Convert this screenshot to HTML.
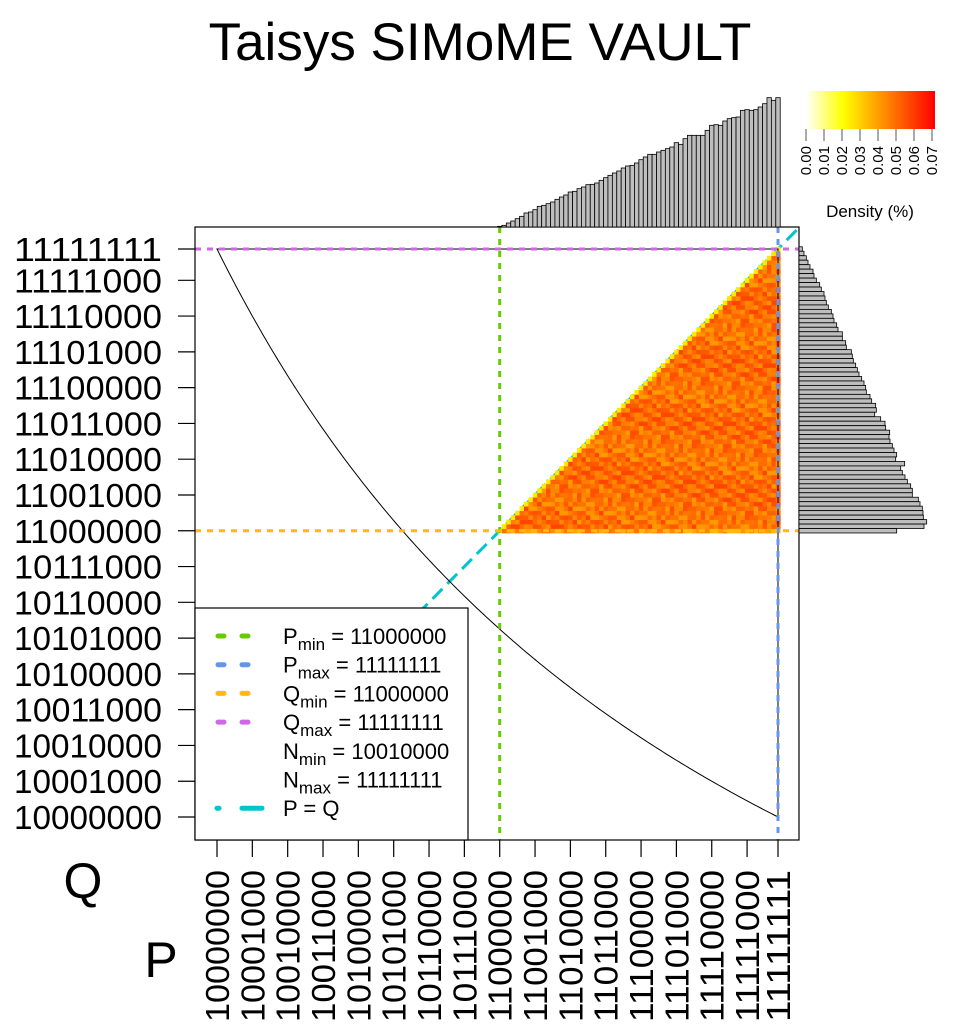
<!DOCTYPE html>
<html><head><meta charset="utf-8"><style>
html,body{margin:0;padding:0;background:#fff;}
svg{display:block;font-family:"Liberation Sans",Arial,sans-serif;}
</style></head><body>
<svg id="chart" width="960" height="1036" viewBox="0 0 960 1036">
<defs><clipPath id="boxclip"><rect x="195" y="227" width="604" height="613"/></clipPath></defs>
<text x="480" y="60" font-size="53" text-anchor="middle">Taisys SIMoME VAULT</text>
<g id="lines"></g>
<g id="heat"></g>
<g id="lines2"></g>
<g id="axes"></g>
<g id="hists"></g>
<g id="legend"></g>
<g id="cbar"></g>
</svg>
<script>
// ---- data ----
const yTickValues = [128,136,144,152,160,168,176,184,192,200,208,216,224,232,240,248,255];
const xTickValues = [128,136,144,152,160,168,176,184,192,200,208,216,224,232,240,248,255];
const pMin = 192, pMax = 255, qMin = 192, qMax = 255, nConst = 32640;
// top histogram (P marginal) heights in density units (x1/3 px)
const pHist = [2,5,12,18,25,32,42,45,52,62,65,70,75,83,90,96,105,107,115,120,127,128,132,140,148,155,162,168,177,183,185,192,202,210,218,218,225,230,235,240,253,248,265,275,275,275,275,290,305,307,305,318,325,328,330,350,352,350,352,360,370,388,380,388];
// right histogram (Q marginal), listed from Q=255 down to Q=192
const qHistTopDown = [10,15,22,27,33,42,45,52,62,67,75,78,82,88,97,102,105,113,117,130,130,140,142,157,160,163,170,175,180,188,195,200,202,213,218,230,232,227,245,258,260,272,270,273,280,285,293,290,317,305,310,318,325,335,340,340,358,363,370,372,373,383,375,293];
// heat cell variation digits
const cellDigits = "5738196402857316940285731694027583619405827316495038271649305827164950382716495038172649501837264950";
const cbTicks = ["0.00","0.01","0.02","0.03","0.04","0.05","0.06","0.07"];

const NS="http://www.w3.org/2000/svg";
function mk(tag,attrs,parent){const e=document.createElementNS(NS,tag);for(const k in attrs)e.setAttribute(k,attrs[k]);parent.appendChild(e);return e;}
const xS = v => 217 + (v-128)*(778-217)/127;
const yS = v => 817 - (v-128)*(817-249)/127;
const cw = (778-217)/127;
function colorOf(v){
  if(v<=0.02){const t=v/0.02;return `rgb(255,255,${Math.round(255*(1-t))})`;}
  const g=Math.max(0,Math.round(255*(0.07-v)/0.05));return `rgb(255,${g},0)`;
}
// diagonal (under heatmap)
const L=document.getElementById('lines');
const dg=mk('line',{x1:xS(120),y1:yS(120),x2:xS(262),y2:yS(262),stroke:'#00c5cd','stroke-width':3,'stroke-dasharray':'14,7','clip-path':'url(#boxclip)'},L);

// heatmap
const heat=document.getElementById('heat');
for(let p=pMin;p<=pMax;p++){for(let q=qMin;q<=p;q++){
  let v;
  if(q===p) v=0.024;
  else { const d=+cellDigits[(p*31+q*17)%cellDigits.length]; v=0.040+d*0.0018; if(q===qMin) v-=0.008; }
  const r=mk('rect',{x:xS(p)-cw/2,y:yS(q)-cw/2,width:cw+0.4,height:cw+0.4,fill:colorOf(v)},heat);
  
  
}}
// lines
const L2=document.getElementById('lines2');
let path=`M${xS(128)},${yS(255)} L${xS(255)},${yS(255)} L${xS(255)},${yS(128)}`;
for(let p=255;p>=128;p-=0.5){path+=` L${xS(p)},${yS(nConst/p)}`;}
const reg=mk('path',{d:path+'Z',fill:'none',stroke:'#000','stroke-width':1},L2);

const box={x0:195,y0:227,x1:799,y1:840};
const refl=[
 ['p-min-line','#66cc00',xS(pMin),box.y0,xS(pMin),box.y1],
 ['p-max-line','#6495ed',xS(pMax),box.y0,xS(pMax),box.y1],
 ['q-min-line','#ffb90f',box.x0,yS(qMin),box.x1,yS(qMin)],
 ['q-max-line','#d066e8',box.x0,yS(qMax),box.x1,yS(qMax)]];
refl.forEach(r=>{const e=mk('line',{x1:r[2],y1:r[3],x2:r[4],y2:r[5],stroke:r[1],'stroke-width':3,'stroke-dasharray':'6,6'},L2);
 });
// axes
const A=document.getElementById('axes');
const pb=mk('rect',{x:box.x0,y:box.y0,width:box.x1-box.x0,height:box.y1-box.y0,fill:'none',stroke:'#000','stroke-width':1.2},A);

const bin=v=>v.toString(2);
yTickValues.forEach(v=>{
  mk('line',{x1:178,y1:yS(v),x2:195,y2:yS(v),stroke:'#000','stroke-width':1.2},A);
  const t=mk('text',{x:14,y:yS(v)+12,'font-size':33,textLength:148,lengthAdjust:'spacingAndGlyphs'},A);t.textContent=bin(v);
  
});
xTickValues.forEach(v=>{
  mk('line',{x1:xS(v),y1:840,x2:xS(v),y2:857,stroke:'#000','stroke-width':1.2},A);
  const t=mk('text',{x:0,y:0,'font-size':33,'text-anchor':'start',textLength:152,lengthAdjust:'spacingAndGlyphs',transform:`translate(${xS(v)+12},1022) rotate(-90)`},A);t.textContent=bin(v);
  
});
const qa=mk('text',{x:83,y:898,'font-size':50,'text-anchor':'middle'},A);qa.textContent='Q';

const pa=mk('text',{x:161,y:977,'font-size':50,'text-anchor':'middle'},A);pa.textContent='P';

// histograms
const H=document.getElementById('hists');
pHist.forEach((h,i)=>{const p=pMin+i;const r=mk('rect',{x:xS(p)-cw/2,y:227-h/3,width:cw,height:h/3,fill:'#bebebe',stroke:'#000','stroke-width':0.8},H);
 });
qHistTopDown.forEach((h,i)=>{const q=qMax-i;const r=mk('rect',{x:799,y:yS(q)-cw/2,width:h/3,height:cw,fill:'#bebebe',stroke:'#000','stroke-width':0.8},H);
 });
// legend
const G=document.getElementById('legend');
const lb=mk('rect',{x:195,y:608,width:273,height:232,fill:'#fff',stroke:'#000','stroke-width':1.2},G);

const items=[['P','min','11000000','#66cc00'],['P','max','11111111','#6495ed'],['Q','min','11000000','#ffb90f'],['Q','max','11111111','#d066e8'],['N','min','10010000',null],['N','max','11111111',null]];
items.forEach((it,i)=>{const y=636+i*28.7;
 if(it[3]){mk('line',{x1:218,y1:y,x2:224,y2:y,stroke:it[3],'stroke-width':5,'stroke-linecap':'round'},G);
  mk('line',{x1:242,y1:y,x2:248,y2:y,stroke:it[3],'stroke-width':5,'stroke-linecap':'round'},G);}
 const t=mk('text',{x:283,y:y+8,'font-size':22},G);
 t.innerHTML=`${it[0]}<tspan font-size="17" dy="6">${it[1]}</tspan><tspan dy="-6"> = ${it[2]}</tspan>`;
 });
{const y=636+6*28.7;
 mk('line',{x1:217,y1:y,x2:219,y2:y,stroke:'#00c5cd','stroke-width':5,'stroke-linecap':'round'},G);
 mk('line',{x1:242,y1:y,x2:262,y2:y,stroke:'#00c5cd','stroke-width':5,'stroke-linecap':'round'},G);
 const t=mk('text',{x:283,y:y+8,'font-size':22},G);t.textContent='P = Q';
 }
// colorbar
const C=document.getElementById('cbar');
const defs=mk('defs',{},C);const lg=mk('linearGradient',{id:'cg',x1:0,x2:1,y1:0,y2:0},defs);
[[0,'#ffffff'],[0.2857,'#ffff00'],[1,'#ff0000']].forEach(s=>mk('stop',{offset:s[0],'stop-color':s[1]},lg));
const cb=mk('rect',{x:806,y:91,width:129,height:38,fill:'url(#cg)'},C);

cbTicks.forEach((s,i)=>{const x=806+i*18;
 mk('line',{x1:x,y1:129,x2:x,y2:141,stroke:'#555','stroke-width':1},C);
 const t=mk('text',{x:0,y:0,'font-size':15,'text-anchor':'end',transform:`translate(${x+5},146) rotate(-90)`},C);t.textContent=s;
 });
const ct=mk('text',{x:870,y:217,'font-size':17,'text-anchor':'middle'},C);ct.textContent='Density (%)';

</script>
</body></html>
